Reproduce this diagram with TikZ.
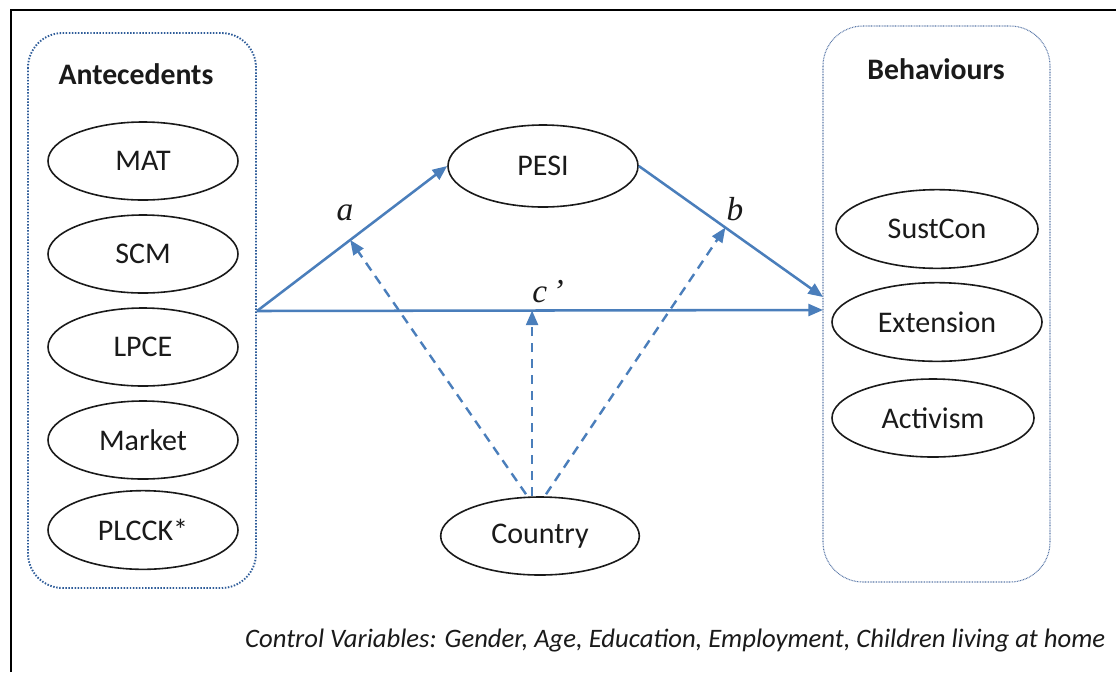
\documentclass[tikz,border=0pt]{standalone}
\usepackage{fontspec}
\setmainfont{Carlito}
\newfontfamily\tmsfont{Liberation Serif}
\usetikzlibrary{shapes.geometric,arrows.meta,calc}
\definecolor{arrblue}{HTML}{4A7EBB}
\definecolor{boxblue}{HTML}{2E5C99}
\definecolor{boxgrey}{HTML}{5A78A8}
\definecolor{ink}{HTML}{1A1A1A}
\begin{document}
\begin{tikzpicture}[x=0.75pt,y=-0.75pt,
  var/.style={ellipse,draw=ink,line width=1.2pt,inner sep=0pt,text=ink,font=\fontsize{22.5}{26}\selectfont},
  lbox/.style={draw=boxblue,line width=1.4pt,dash pattern=on 1.1pt off 1.2pt,rounded corners=26pt},
  rbox/.style={draw=boxgrey,line width=0.8pt,dash pattern=on 0.6pt off 0.6pt,rounded corners=30pt},
  conn/.style={draw=arrblue,line width=1.9pt,-{Triangle[length=11pt,width=9pt]}},
  modr/.style={draw=arrblue,line width=1.8pt,dash pattern=on 7pt off 5pt,-{Triangle[length=11pt,width=9pt]}},
  head/.style={text=ink,font=\bfseries\fontsize{22.3}{26}\selectfont},
  plab/.style={text=ink,font=\tmsfont\itshape\fontsize{25}{29}\selectfont},
  note/.style={text=ink,font=\itshape\fontsize{20}{24}\selectfont}]
\useasboundingbox (0,0) rectangle (1116,672);
\fill[white] (0,0) rectangle (1116,672);
\draw[line width=1.8pt,black] (11,672) -- (11,10) -- (1116,10);
% group boxes
\draw[lbox] (28,33) rectangle (256,588);
\draw[rbox] (823,26) rectangle (1050,582);
\node[head] (ante) at (136,74) {Antecedents};
\node[head] (beha) at (936,69) {Behaviours};
% antecedents
\node[var,minimum width=142.5pt,minimum height=58.5pt] (mat) at (143,161) {MAT};
\node[var,minimum width=142.5pt,minimum height=58.5pt] (scm) at (143,254) {SCM};
\node[var,minimum width=142.5pt,minimum height=58.5pt] (lpce) at (143,347) {LPCE};
\node[var,minimum width=142.5pt,minimum height=58.5pt] (market) at (143,440) {Market};
\node[var,minimum width=142.5pt,minimum height=59pt] (plcck) at (143,530) {PLCCK*};
% behaviours
\node[var,minimum width=151.5pt,minimum height=59pt] (sust) at (937,229) {SustCon};
\node[var,minimum width=157.5pt,minimum height=59pt] (ext) at (937,322) {Extension};
\node[var,minimum width=151.5pt,minimum height=58.5pt] (act) at (933,418) {Activism};
% mediator and moderator
\node[var,minimum width=142.5pt,minimum height=61.5pt] (pesi) at (543,166) {PESI};
\node[var,minimum width=149pt,minimum height=58.5pt] (country) at (540,536) {Country};
% connector anchors
\coordinate (src) at (257,311);
\coordinate (bt) at (823,297);
\coordinate (ct) at (823,310);
% paths
\draw[conn] (src) -- (pesi.west);
\draw[conn] (pesi.east) -- (bt);
\draw[conn] (src) -- (ct);
\coordinate (ma) at ($(src)!0.49!(pesi.west)$);
\coordinate (mb) at ($(pesi.east)!0.47!(bt)$);
\coordinate (mc) at ($(src)!0.486!(ct)$);
\draw[modr] ($(country.north)+(-14,-2)$) -- (ma);
\draw[modr] (mc |- country.north) -- (mc);
\draw[modr] ($(country.north)+(6,-2)$) -- (mb);
% labels
\node[plab] (la) at (345,213) {a};
\node[plab] (lb) at (735,209) {b};
\node[plab] (lc) at (548,292) {c\,’};
\node[note,anchor=east] (ctrl) at (1110,641) {Control Variables: Gender, Age, Education, Employment, Children living at home};
\end{tikzpicture}
\end{document}
